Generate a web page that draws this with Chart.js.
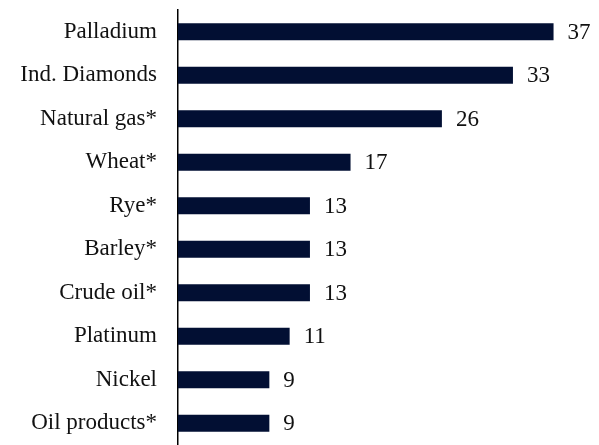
<!DOCTYPE html>
<html>
<head>
<meta charset="utf-8">
<script src="https://cdn.jsdelivr.net/npm/chart.js@4.4.1/dist/chart.umd.min.js"></script>
<style>
  html, body { margin:0; padding:0; background:#fff; }
  #wrap { position:relative; width:599px; height:445px; }
</style>
</head>
<body>
<div id="wrap"><canvas id="chart"></canvas></div>
<script>
const categories = ['Palladium', 'Ind. Diamonds', 'Natural gas*', 'Wheat*', 'Rye*', 'Barley*', 'Crude oil*', 'Platinum', 'Nickel', 'Oil products*'];
const shares     = [37, 33, 26, 17, 13, 13, 13, 11, 9, 9];

const fontFamily = '"Liberation Serif", "Times New Roman", serif';
const fontSize = 23;

// value labels to the right of each bar
const valueLabels = {
    id: 'valueLabels',
    afterDatasetsDraw(chart) {
        const ctx = chart.ctx;
        const meta = chart.getDatasetMeta(0);
        ctx.save();
        ctx.font = fontSize + 'px ' + fontFamily;
        ctx.fillStyle = '#111';
        ctx.textAlign = 'left';
        ctx.textBaseline = 'middle';
        meta.data.forEach((bar, i) => {
            ctx.fillText(String(shares[i]), bar.x + 14, bar.y + 1);
        });
        ctx.restore();
    }
};

new Chart(document.getElementById('chart'), {
    type: 'bar',
    data: {
        labels: categories,
        datasets: [{
            data: shares,
            backgroundColor: '#020f33',
            borderWidth: 0,
            barPercentage: 0.8,
            categoryPercentage: 0.49
        }]
    },
    options: {
        indexAxis: 'y',
        responsive: true,
        maintainAspectRatio: false,
        animation: false,
        layout: { padding: { top: 10, right: 15, bottom: 0, left: 0 } },
        plugins: { legend: { display: false }, tooltip: { enabled: false } },
        scales: {
            x: { display: false, min: 0, max: 40 },
            y: {
                afterFit(scale) {
                    scale.width = 178;
                    scale.paddingTop = 0;
                    scale.paddingBottom = 0;
                },
                grid: { display: false, drawTicks: false },
                border: { display: true, color: '#000', width: 1.5 },
                ticks: { color: '#111', padding: 21, font: { family: fontFamily, size: fontSize } }
            }
        }
    },
    plugins: [valueLabels]
});
</script>
</body>
</html>
